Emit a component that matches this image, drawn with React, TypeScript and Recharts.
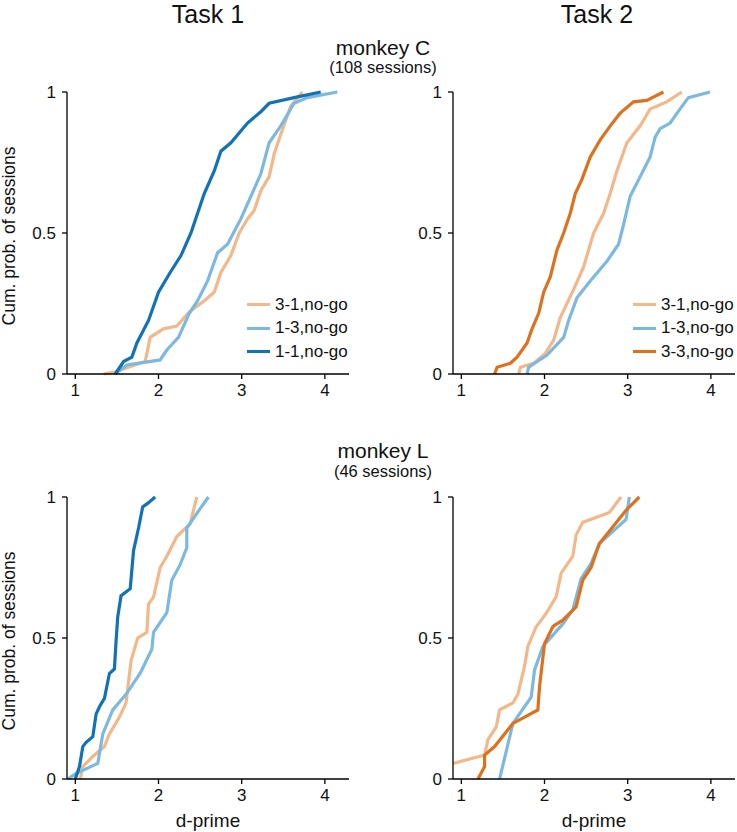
import { LineChart, Line, XAxis, YAxis } from "recharts"

// d-prime / cumulative probability pairs
const cT1_31: [number, number][] = [
  [1.34, 0], [1.48, 0.008], [1.84, 0.044], [1.9, 0.13], [2.06, 0.16], [2.22, 0.17],
  [2.37, 0.22], [2.55, 0.26], [2.67, 0.29], [2.75, 0.36], [2.87, 0.42], [2.97, 0.5],
  [3.07, 0.55], [3.15, 0.58], [3.23, 0.65], [3.33, 0.7], [3.39, 0.78], [3.47, 0.85],
  [3.59, 0.95], [3.73, 1],
]
const cT1_13: [number, number][] = [
  [1.48, 0], [1.62, 0.032], [2.02, 0.05], [2.1, 0.085], [2.24, 0.13], [2.37, 0.215],
  [2.47, 0.26], [2.59, 0.33], [2.71, 0.43], [2.83, 0.46], [2.99, 0.55], [3.11, 0.63],
  [3.23, 0.71], [3.33, 0.82], [3.47, 0.88], [3.63, 0.96], [3.79, 0.98], [4.15, 1],
]
const cT1_11: [number, number][] = [
  [1.48, 0], [1.58, 0.044], [1.68, 0.06], [1.74, 0.11], [1.88, 0.19], [2.0, 0.29],
  [2.14, 0.36], [2.27, 0.42], [2.39, 0.5], [2.47, 0.57], [2.55, 0.64], [2.67, 0.72],
  [2.75, 0.79], [2.87, 0.82], [3.07, 0.89], [3.23, 0.93], [3.33, 0.96], [3.63, 0.98],
  [3.95, 1],
]
const cT2_31: [number, number][] = [
  [1.69, 0], [1.71, 0.024], [1.87, 0.038], [2.01, 0.073], [2.11, 0.12], [2.19, 0.2],
  [2.35, 0.3], [2.47, 0.38], [2.59, 0.5], [2.71, 0.57], [2.79, 0.64], [2.87, 0.72],
  [2.99, 0.82], [3.15, 0.88], [3.27, 0.94], [3.47, 0.965], [3.65, 1],
]
const cT2_13: [number, number][] = [
  [1.79, 0], [1.81, 0.024], [2.03, 0.067], [2.23, 0.13], [2.29, 0.19], [2.39, 0.27],
  [2.55, 0.33], [2.75, 0.4], [2.89, 0.46], [2.95, 0.53], [3.03, 0.63], [3.15, 0.7],
  [3.27, 0.77], [3.33, 0.84], [3.39, 0.87], [3.51, 0.89], [3.63, 0.94], [3.73, 0.98],
  [3.99, 1],
]
const cT2_33: [number, number][] = [
  [1.4, 0], [1.43, 0.024], [1.59, 0.038], [1.67, 0.06], [1.79, 0.11], [1.85, 0.16],
  [1.93, 0.215], [1.99, 0.29], [2.07, 0.345], [2.15, 0.44], [2.23, 0.5], [2.31, 0.57],
  [2.37, 0.64], [2.45, 0.69], [2.55, 0.77], [2.67, 0.83], [2.79, 0.88], [2.91, 0.925],
  [3.07, 0.965], [3.23, 0.97], [3.43, 1],
]
const lT1_31: [number, number][] = [
  [1.06, 0], [1.09, 0.044], [1.21, 0.08], [1.35, 0.115], [1.41, 0.16], [1.53, 0.22],
  [1.61, 0.27], [1.67, 0.42], [1.75, 0.5], [1.86, 0.52], [1.88, 0.62], [1.94, 0.645],
  [2.02, 0.75], [2.1, 0.79], [2.22, 0.86], [2.38, 0.905], [2.46, 1],
]
const lT1_13: [number, number][] = [
  [0.91, 0], [1.01, 0.02], [1.27, 0.055], [1.33, 0.16], [1.45, 0.245], [1.61, 0.3],
  [1.78, 0.375], [1.92, 0.46], [1.94, 0.52], [2.1, 0.59], [2.16, 0.705], [2.26, 0.76],
  [2.34, 0.82], [2.34, 0.89], [2.48, 0.95], [2.6, 1],
]
const lT1_11: [number, number][] = [
  [1.0, 0], [1.05, 0.044], [1.09, 0.115], [1.13, 0.13], [1.21, 0.15], [1.25, 0.23],
  [1.29, 0.256], [1.35, 0.286], [1.41, 0.374], [1.47, 0.39], [1.49, 0.49], [1.51, 0.575],
  [1.55, 0.65], [1.66, 0.675], [1.7, 0.81], [1.76, 0.89], [1.81, 0.965], [1.88, 0.98],
  [1.96, 1],
]
const lT2_31: [number, number][] = [
  [0.9, 0.055], [1.28, 0.085], [1.32, 0.14], [1.42, 0.185], [1.46, 0.245], [1.62, 0.27],
  [1.68, 0.3], [1.76, 0.4], [1.8, 0.47], [1.9, 0.54], [2.02, 0.587], [2.14, 0.646],
  [2.2, 0.73], [2.34, 0.79], [2.38, 0.865], [2.46, 0.91], [2.78, 0.945], [2.92, 1],
]
const lT2_13: [number, number][] = [
  [1.46, 0], [1.62, 0.197], [1.84, 0.29], [1.88, 0.386], [1.98, 0.47], [2.22, 0.55],
  [2.34, 0.6], [2.44, 0.71], [2.56, 0.765], [2.66, 0.835], [2.98, 0.92], [3.02, 1],
]
const lT2_33: [number, number][] = [
  [1.2, 0], [1.28, 0.044], [1.28, 0.085], [1.4, 0.115], [1.62, 0.197], [1.92, 0.245],
  [1.94, 0.327], [2.0, 0.48], [2.1, 0.54], [2.12, 0.545], [2.22, 0.563], [2.38, 0.61],
  [2.46, 0.705], [2.56, 0.75], [2.66, 0.835], [2.82, 0.894], [2.98, 0.953], [3.14, 1],
]

const xTicks = [1, 2, 3, 4]
const yTicks = [0, 0.5, 1]

const FONT = '"Liberation Sans", Arial, Helvetica, sans-serif'
const LIGHT_ORANGE = "#f3b88a"
const LIGHT_BLUE = "#7cb9e0"
const DARK_BLUE = "#1172b6"
const DARK_ORANGE = "#e0711c"

type Series = { name: string; color: string; data: [number, number][] }

const toRows = (pts: [number, number][]) => pts.map(([d, p]) => ({ d, p }))

function Panel({ left, top, series, legend, yLabel, xLabel }: {
  left: number
  top: number
  series: Series[]
  legend?: boolean
  yLabel?: boolean
  xLabel?: boolean
}) {
  const tick = { fill: "#111", fontSize: 17, fontFamily: FONT }
  return (
    <div style={{ position: "absolute", left, top, width: 359, height: 324 }}>
      <LineChart width={359} height={324} margin={{ top: 12, right: 10, left: 12, bottom: 0 }}>
        <XAxis
          type="number"
          dataKey="d"
          domain={[0.9, 4.29]}
          ticks={xTicks}
          allowDataOverflow
          height={30}
          tick={tick}
          tickSize={5}
          tickMargin={5}
          stroke="#000"
          strokeWidth={1.3}
        />
        <YAxis
          type="number"
          dataKey="p"
          domain={[0, 1]}
          ticks={yTicks}
          width={55}
          tick={tick}
          tickSize={5}
          tickMargin={6}
          stroke="#000"
          strokeWidth={1.3}
          tickFormatter={(v: number) => String(v)}
        />
        {series.map((s) => (
          <Line
            key={s.name}
            data={toRows(s.data)}
            dataKey="p"
            name={s.name}
            type="linear"
            stroke={s.color}
            strokeWidth={3.2}
            dot={false}
            isAnimationActive={false}
          />
        ))}
      </LineChart>
      {legend && (
        <div style={{ position: "absolute", left: 247, top: 213 }}>
          {series.map((s) => (
            <div key={s.name} style={{ display: "flex", alignItems: "center", height: 23.5 }}>
              <div style={{ width: 23, height: 3, background: s.color, marginRight: 5 }} />
              <span style={{ fontFamily: FONT, fontSize: 17, color: "#111" }}>{s.name}</span>
            </div>
          ))}
        </div>
      )}
      {yLabel && (
        <div
          style={{
            position: "absolute",
            left: 9 - 150,
            top: 156 - 10,
            width: 300,
            textAlign: "center",
            transform: "rotate(-90deg)",
            fontFamily: FONT,
            fontSize: 17.5,
            lineHeight: "20px",
            color: "#111",
          }}
        >
          Cum. prob. of sessions
        </div>
      )}
      {xLabel && (
        <div
          style={{
            position: "absolute",
            left: 67,
            top: 326,
            width: 282,
            textAlign: "center",
            fontFamily: FONT,
            fontSize: 19,
            lineHeight: "19px",
            color: "#111",
          }}
        >
          d-prime
        </div>
      )}
    </div>
  )
}

function Title({ x, top, size, children }: { x: number; top: number; size: number; children: string }) {
  return (
    <div
      style={{
        position: "absolute",
        left: x - 150,
        top,
        width: 300,
        textAlign: "center",
        fontFamily: FONT,
        fontSize: size,
        lineHeight: `${size}px`,
        color: "#111",
      }}
    >
      {children}
    </div>
  )
}

export default function App() {
  return (
    <div style={{ position: "absolute", left: 0, top: 0, width: 737, height: 832, background: "#fff" }}>
      <Title x={208} top={2} size={25}>Task 1</Title>
      <Title x={597} top={2} size={25}>Task 2</Title>
      <Title x={383} top={37} size={21}>monkey C</Title>
      <Title x={383} top={59} size={16.5}>(108 sessions)</Title>
      <Title x={383} top={440} size={21}>monkey L</Title>
      <Title x={383} top={463} size={16.5}>(46 sessions)</Title>

      <Panel
        left={0}
        top={80}
        legend
        yLabel
        series={[
          { name: "3-1,no-go", color: LIGHT_ORANGE, data: cT1_31 },
          { name: "1-3,no-go", color: LIGHT_BLUE, data: cT1_13 },
          { name: "1-1,no-go", color: DARK_BLUE, data: cT1_11 },
        ]}
      />
      <Panel
        left={386}
        top={80}
        legend
        series={[
          { name: "3-1,no-go", color: LIGHT_ORANGE, data: cT2_31 },
          { name: "1-3,no-go", color: LIGHT_BLUE, data: cT2_13 },
          { name: "3-3,no-go", color: DARK_ORANGE, data: cT2_33 },
        ]}
      />
      <Panel
        left={0}
        top={485}
        yLabel
        xLabel
        series={[
          { name: "3-1,no-go", color: LIGHT_ORANGE, data: lT1_31 },
          { name: "1-3,no-go", color: LIGHT_BLUE, data: lT1_13 },
          { name: "1-1,no-go", color: DARK_BLUE, data: lT1_11 },
        ]}
      />
      <Panel
        left={386}
        top={485}
        xLabel
        series={[
          { name: "3-1,no-go", color: LIGHT_ORANGE, data: lT2_31 },
          { name: "1-3,no-go", color: LIGHT_BLUE, data: lT2_13 },
          { name: "3-3,no-go", color: DARK_ORANGE, data: lT2_33 },
        ]}
      />
    </div>
  )
}
